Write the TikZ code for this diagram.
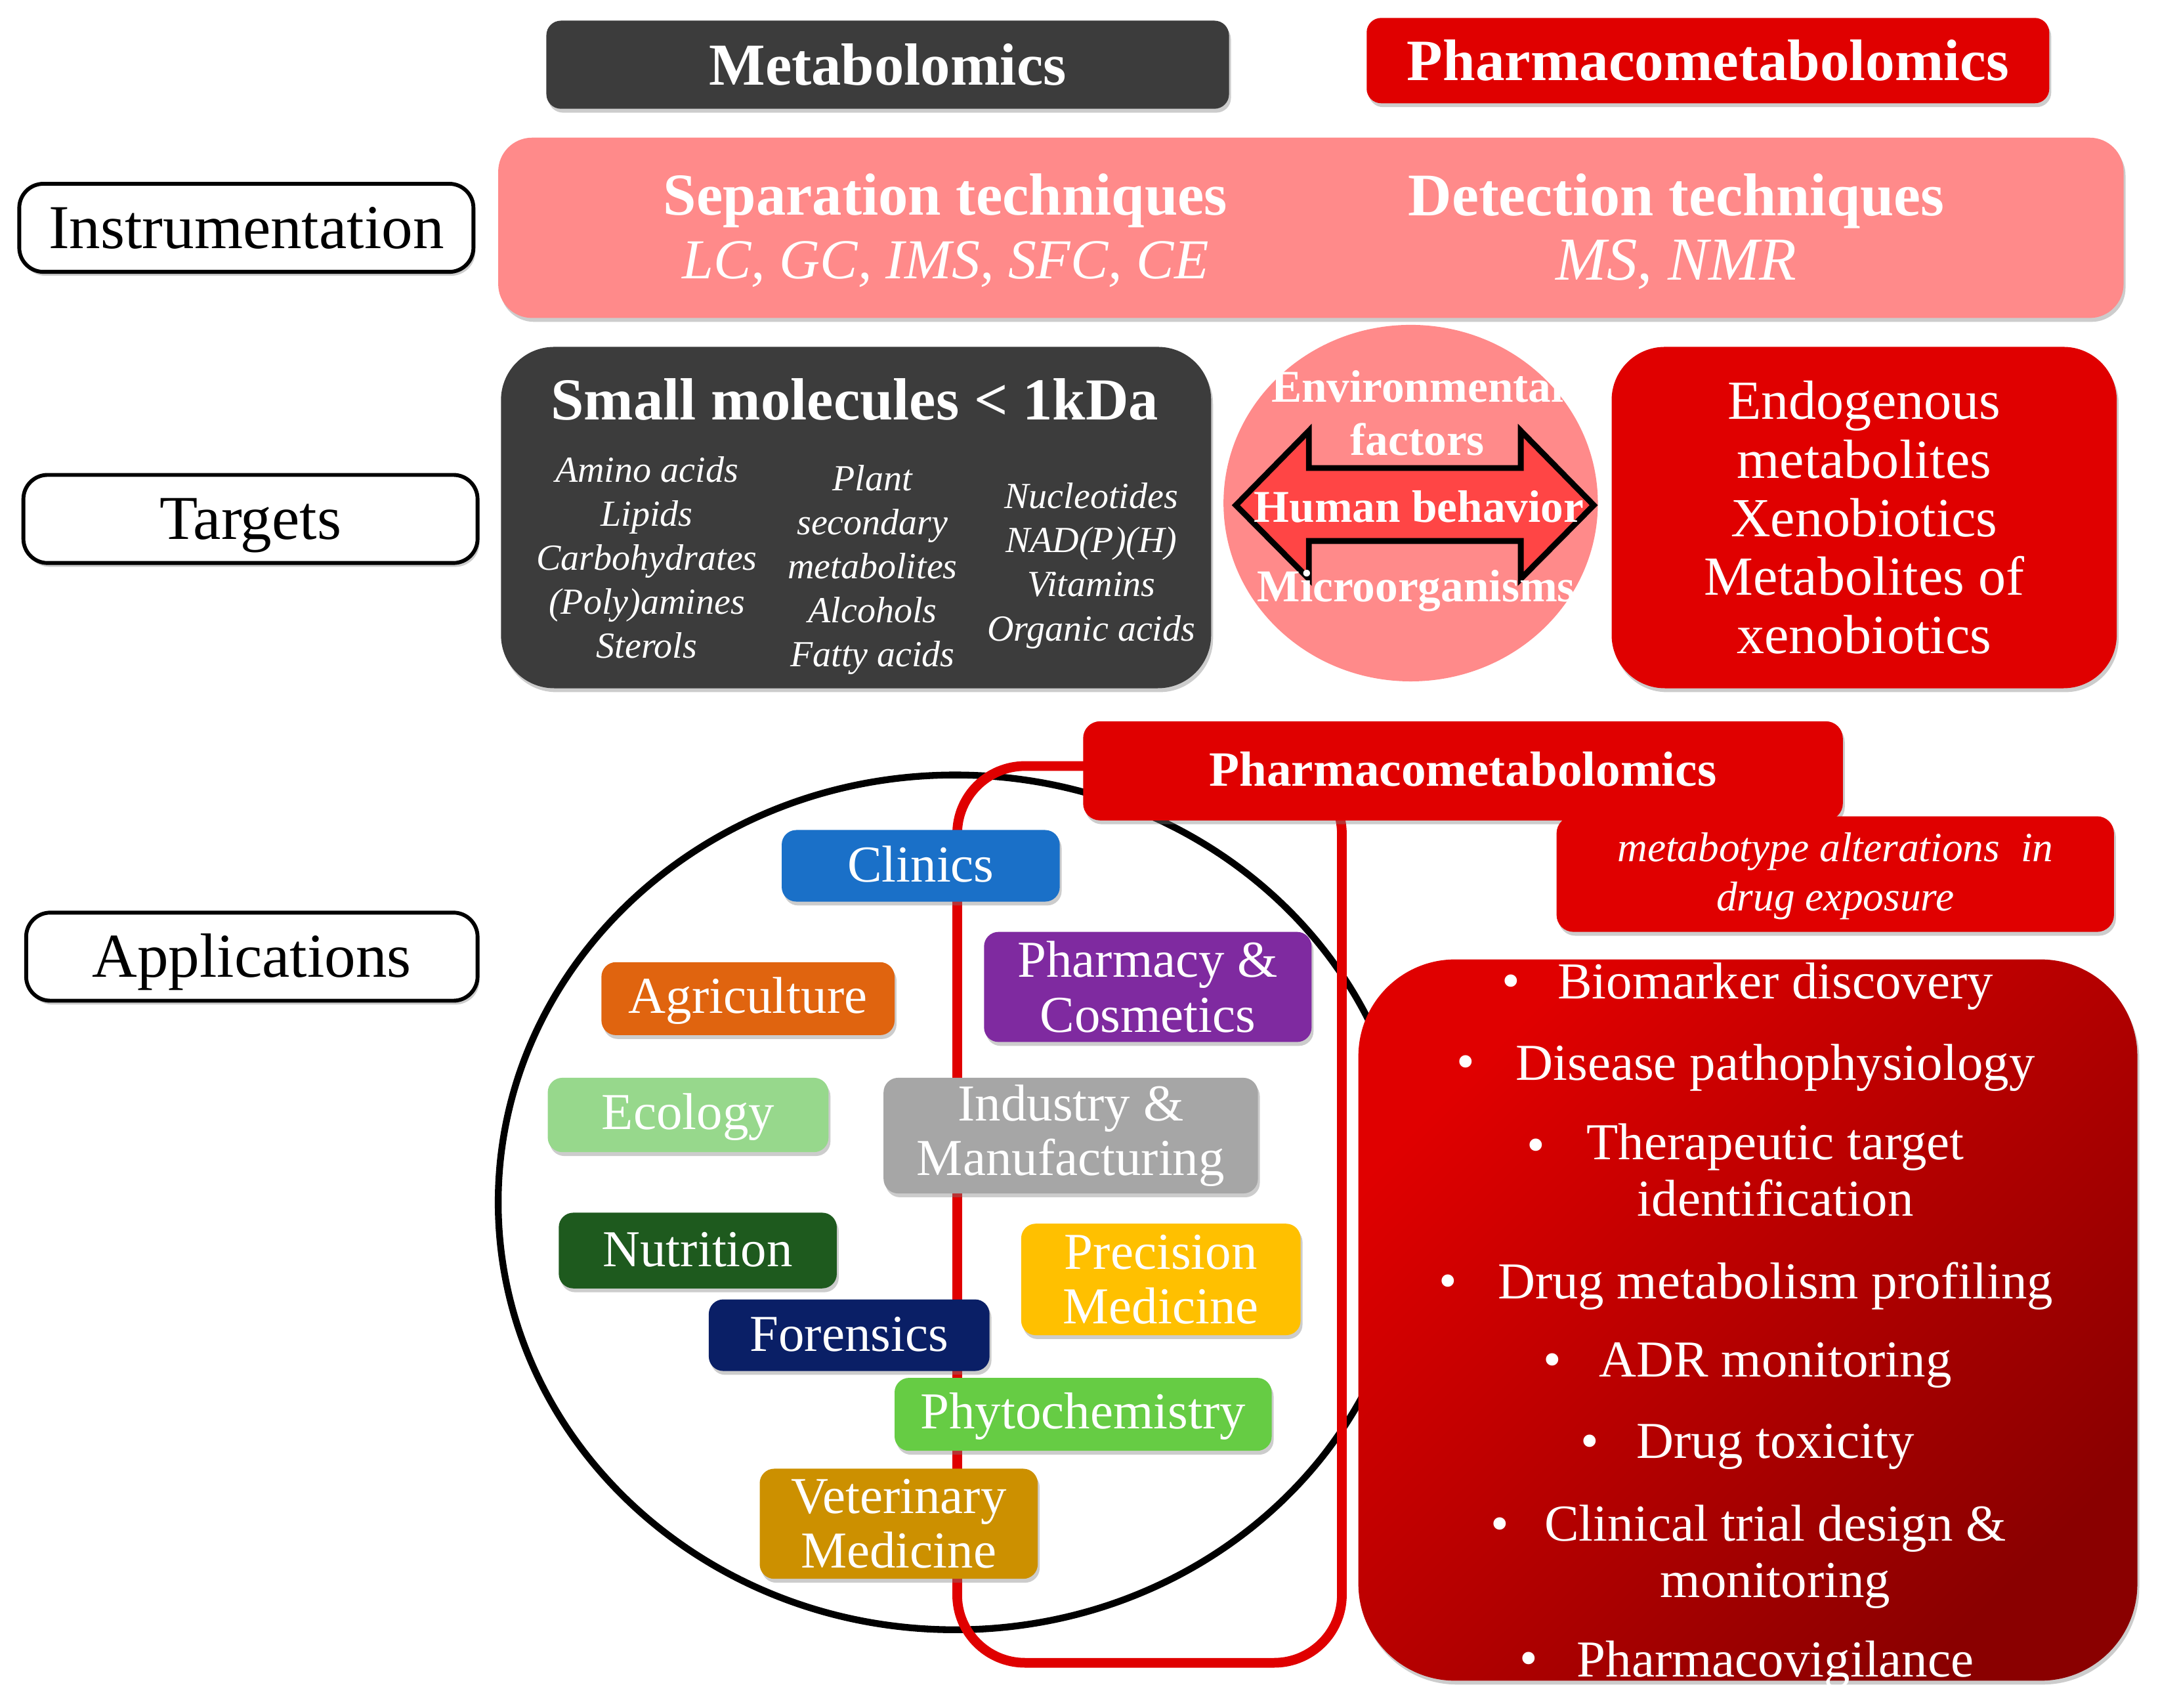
\documentclass[tikz,border=0pt]{standalone}
\usepackage{fontspec}
\setmainfont{Liberation Serif}
\usetikzlibrary{shadows,shapes.geometric}
\definecolor{darkbox}{HTML}{3C3C3C}
\definecolor{redbox}{HTML}{E00000}
\definecolor{deepred}{HTML}{8A0000}
\definecolor{pinkbox}{HTML}{FF8A8A}
\definecolor{arrowred}{HTML}{FF4545}
\definecolor{clin}{HTML}{1A70C8}
\definecolor{pharm}{HTML}{7F2AA0}
\definecolor{agri}{HTML}{E0640F}
\definecolor{eco}{HTML}{97D88C}
\definecolor{indu}{HTML}{A6A6A6}
\definecolor{nutr}{HTML}{1E5A1E}
\definecolor{prec}{HTML}{FFC000}
\definecolor{fore}{HTML}{0A1F66}
\definecolor{phyt}{HTML}{66CC44}
\definecolor{vete}{HTML}{CC9000}
\newcommand{\tagstrut}{\rule[-1.7pt]{0pt}{10pt}}
\tikzset{
	size/.style 2 args={minimum width=#1*0.01cm,minimum height=#2*0.01cm,inner sep=0pt},
	boxshadow/.style={drop shadow={opacity=.4,shadow xshift=.4pt,shadow yshift=-.8pt}},
	sidebox/.style={draw,line width=.8pt,rounded corners=5pt,fill=white,boxshadow,font=\fontsize{12.9}{16}\selectfont,execute at begin node={\rule[-3.3pt]{0pt}{15pt}}},
	head/.style={text=white,align=center,font=\fontsize{12.3}{15}\bfseries\selectfont},
	plainbox/.style={text=white,align=center,font=\fontsize{11.4}{12.1}\selectfont},
	slant/.style={text=white,align=center,font=\fontsize{7.6}{9.1}\itshape\selectfont},
	tag/.style={rounded corners=3pt,boxshadow,text=white,align=center,font=\fontsize{10.7}{11.3}\selectfont},
	useitem/.style={text=white,align=center,font=\fontsize{10.7}{11.6}\selectfont},
}
\begin{document}
\begin{tikzpicture}[x=.01cm,y=-.01cm]
\useasboundingbox (0,0) rectangle (1568,1240.4);
% top row
\node (metab) [size={496}{64},fill=darkbox,rounded corners=3pt,boxshadow,head] at (645,47) {Metabolomics};
\node (pharmtop) [size={496}{62},fill=redbox,rounded corners=3pt,boxshadow,head,font=\fontsize{12.1}{15}\bfseries\selectfont] at (1241,44) {Pharmacometabolomics};
\node (instr) [size={1181}{131},fill=pinkbox,rounded corners=7pt,boxshadow] at (952.5,165.5) {};
\node (septitle) [head] at (687,146) {Separation techniques};
\node (seplist) [head,font=\fontsize{11.65}{14}\itshape\selectfont] at (687,192) {LC, GC, IMS, SFC, CE};
\node (dettitle) [head,font=\fontsize{12.5}{15}\bfseries\selectfont] at (1218,146) {Detection techniques};
\node (detlist) [head,font=\fontsize{12.6}{14}\itshape\selectfont] at (1218,192) {MS, NMR};
\foreach \name/\cx/\cy/\w/\txt in {linstr/179/165.5/330/Instrumentation,ltarg/182/377/330/Targets,lappl/183/695/328/Applications}{
	\node (\name) [sidebox,size={\w}{64}] at (\cx,\cy) {\txt};
}
% targets row
\node (small) [size={516}{248},fill=darkbox,rounded corners=11pt,boxshadow] at (622,376) {};
\node (smalltitle) [head] at (621,290) {Small molecules < 1kDa};
\node (col1) [slant] at (470,405) {Amino acids\\Lipids\\Carbohydrates\\(Poly)amines\\Sterols};
\node (col2) [slant] at (634,414) {Plant\\secondary\\metabolites\\Alcohols\\Fatty acids};
\node (col3) [slant] at (793,411) {Nucleotides\\NAD(P)(H)\\Vitamins\\Organic acids};
\node (envir) [ellipse,size={272}{259},fill=pinkbox] at (1025,365.5) {};
\draw [line width=1.2pt,fill=arrowred,line join=miter]
	(898,367) -- (951,313) -- (951,340) -- (1105,340) -- (1105,313) -- (1158,367)
	-- (1105,420.5) -- (1105,393) -- (951,393) -- (951,420.5) -- cycle;
\node (envtxt) [head,font=\fontsize{9.4}{10.9}\bfseries\selectfont] at (1030,300) {Environmental\\factors};
\node (human) [head,font=\fontsize{9.4}{11}\bfseries\selectfont] at (1031,368) {Human behavior};
\node (micro) [head,font=\fontsize{9.4}{11}\bfseries\selectfont] at (1029,429) {Microorganisms};
\node (endo) [size={367}{248},fill=redbox,rounded corners=11pt,boxshadow,plainbox] at (1354.5,376) {Endogenous\\metabolites\\Xenobiotics\\Metabolites of\\xenobiotics};
% applications
\draw [line width=1.4pt] (694,873.5) ellipse (332 and 310.5);
\draw [redbox,line width=2pt,rounded corners=14pt] (695.5,556.5) rectangle (975,1208);
\node (pharmmid) [size={552}{72},fill=redbox,rounded corners=3.5pt,boxshadow,head,font=\fontsize{10.2}{13}\bfseries\selectfont] at (1063,560) {\raisebox{.8pt}{Pharmacometabolomics}};
\node (alter) [size={405}{84},fill=redbox,rounded corners=3.5pt,boxshadow] at (1333.5,635) {};
\node (altertxt) [slant,font=\fontsize{8.6}{10.2}\itshape\selectfont] at (1333.5,636.5) {metabotype alterations\ \ in\\drug exposure};
\foreach \name/\cx/\cy/\w/\h/\col/\txt in {
	clinics/669/629/202/52/clin/{\tagstrut Clinics},
	pharmacy/834/717/238/80/pharm/{Pharmacy \&\\Cosmetics},
	agricult/543.5/725.5/213/53/agri/{\tagstrut Agriculture},
	ecology/500/810/204/54/eco/{\tagstrut Ecology},
	industry/778/825/272/84/indu/{Industry \&\\Manufacturing},
	nutrition/507/908.5/202/55/nutr/{\tagstrut Nutrition},
	precision/843.5/929.5/203/81/prec/{Precision\\Medicine},
	forensics/617/970/204/52/fore/{\tagstrut Forensics},
	phyto/787/1027.5/274/53/phyt/{\tagstrut Phytochemistry},
	veterin/653/1107/202/80/vete/{Veterinary\\Medicine}}{
	\node (\name) [tag,size={\w}{\h},fill=\col] at (\cx,\cy) {\txt};
}
\node (uses) [size={566}{524},rounded corners=20pt,boxshadow,left color=redbox,middle color=redbox,right color=deepred,shading angle=45] at (1270,959) {};
\foreach \name/\cy/\bx/\by/\txt in {
	biom/716.5/1098/716.5/Biomarker discovery,
	dise/775.5/1065/775.5/Disease pathophysiology,
	ther/850/1116/836/{Therapeutic target\\identification},
	drug/934.5/1052/934.5/Drug metabolism profiling,
	adrm/992/1128/992/ADR monitoring,
	toxi/1051/1155/1051/Drug toxicity,
	clin/1131/1090/1111/{Clinical trial design \&\\monitoring},
	vigi/1209/1111/1209/Pharmacovigilance}{
	\node (\name) [useitem] at (1290,\cy) {\txt};
	\node (\name dot) [useitem] at (\bx,\by) {\textbullet};
}
\end{tikzpicture}
\end{document}
